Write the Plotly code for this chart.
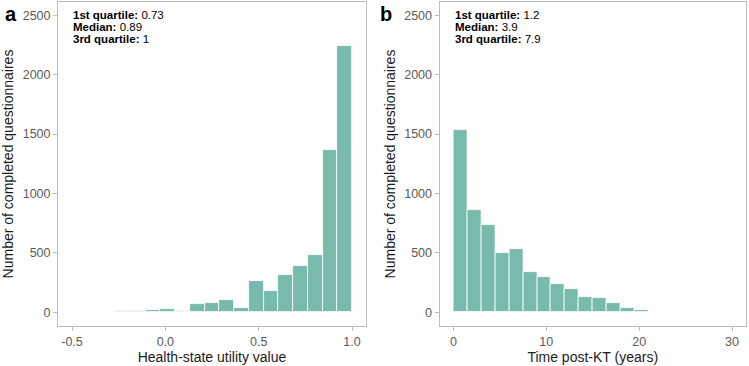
import numpy as np
import plotly.graph_objects as go

# Panel a: health-state utility value histogram (19 bins from -0.5 to 1.0)
hsuv_edges = np.linspace(-0.5, 1.0, 20)
hsuv_counts = [2, 3, 5, 8, 11, 22, 31, 11, 67, 79, 104, 39, 267, 183, 312, 393, 486, 1368, 2245]

# Panel b: time post-KT histogram (20 bins from 0 to 30)
time_edges = np.linspace(0, 30, 21)
time_counts = [1531, 865, 733, 503, 537, 343, 301, 236, 197, 132, 118, 79, 37, 20, 6, 4, 2, 1, 1, 1]

annot_a = ["0.73", "0.89", "1"]
annot_b = ["1.2", "3.9", "7.9"]
annot_labels = ["1st quartile:", "Median:", "3rd quartile:"]

fill = "rgba(105,179,162,0.9)"
grey_line = "#BDBDBD"
tick_col = "#5A5A5A"
font_family = "Liberation Sans, Arial, sans-serif"

fig = go.Figure()

def add_hist(edges, counts, xa, ya):
    edges = np.asarray(edges)
    centers = (edges[:-1] + edges[1:]) / 2
    widths = np.diff(edges)
    fig.add_trace(go.Bar(
        x=centers, y=counts, width=widths,
        marker=dict(color=fill, line=dict(color="white", width=0.8)),
        xaxis=xa, yaxis=ya, showlegend=False, hoverinfo="x+y"))

add_hist(hsuv_edges, hsuv_counts, "x", "y")
add_hist(time_edges, time_counts, "x2", "y2")

ydom = [1 - 326 / 366, 1 - 2 / 366]
axis_common = dict(showline=True, linecolor=grey_line, linewidth=1, mirror=True,
                   showgrid=False, zeroline=False, ticks="outside", ticklen=4,
                   tickcolor=grey_line, tickfont=dict(size=12.5, color=tick_col, family=font_family),
                   title_font=dict(size=14, color="#1a1a1a", family=font_family))

fig.update_layout(
    width=749, height=366, margin=dict(l=0, r=0, t=0, b=0),
    plot_bgcolor="white", paper_bgcolor="white", bargap=0,
    font=dict(family=font_family),
    xaxis=dict(domain=[58 / 749, 366 / 749], range=[-0.575, 1.075],
               tickvals=[-0.5, 0, 0.5, 1.0], ticktext=["-0.5", "0.0", "0.5", "1.0"],
               title=dict(text="Health-state utility value", standoff=4), **axis_common),
    yaxis=dict(domain=ydom, range=[-115, 2612], tickvals=[0, 500, 1000, 1500, 2000, 2500],
               title=dict(text="Number of completed questionnaires", standoff=5), **axis_common),
    xaxis2=dict(domain=[439.5 / 749, 746 / 749], range=[-1.5, 31.5], anchor="y2",
                tickvals=[0, 10, 20, 30],
                title=dict(text="Time post-KT (years)", standoff=4), **axis_common),
    yaxis2=dict(domain=ydom, range=[-115, 2612], anchor="x2",
                tickvals=[0, 500, 1000, 1500, 2000, 2500],
                title=dict(text="Number of completed questionnaires", standoff=5), **axis_common),
)

line_y = [0.040, 0.077, 0.113]

def add_stats(xref, yref, x0, vals):
    for l, v, yy in zip(annot_labels, vals, line_y):
        fig.add_annotation(x=x0, y=1 - yy, xref=xref, yref=yref, text=f"<b>{l}</b> {v}",
                           showarrow=False, xanchor="left", yanchor="middle", align="left",
                           font=dict(size=11.5, color="black", family=font_family))

add_stats("x domain", "y domain", 0.043, annot_a)
add_stats("x2 domain", "y2 domain", 0.043, annot_b)

fig.add_annotation(x=3 / 749, y=1 - 1 / 366, xref="paper", yref="paper", text="<b>a</b>",
                   showarrow=False, xanchor="left", yanchor="top",
                   font=dict(size=20, color="black", family=font_family))
fig.add_annotation(x=378 / 749, y=1 - 1 / 366, xref="paper", yref="paper", text="<b>b</b>",
                   showarrow=False, xanchor="left", yanchor="top",
                   font=dict(size=20, color="black", family=font_family))

fig.write_html("out.html")
